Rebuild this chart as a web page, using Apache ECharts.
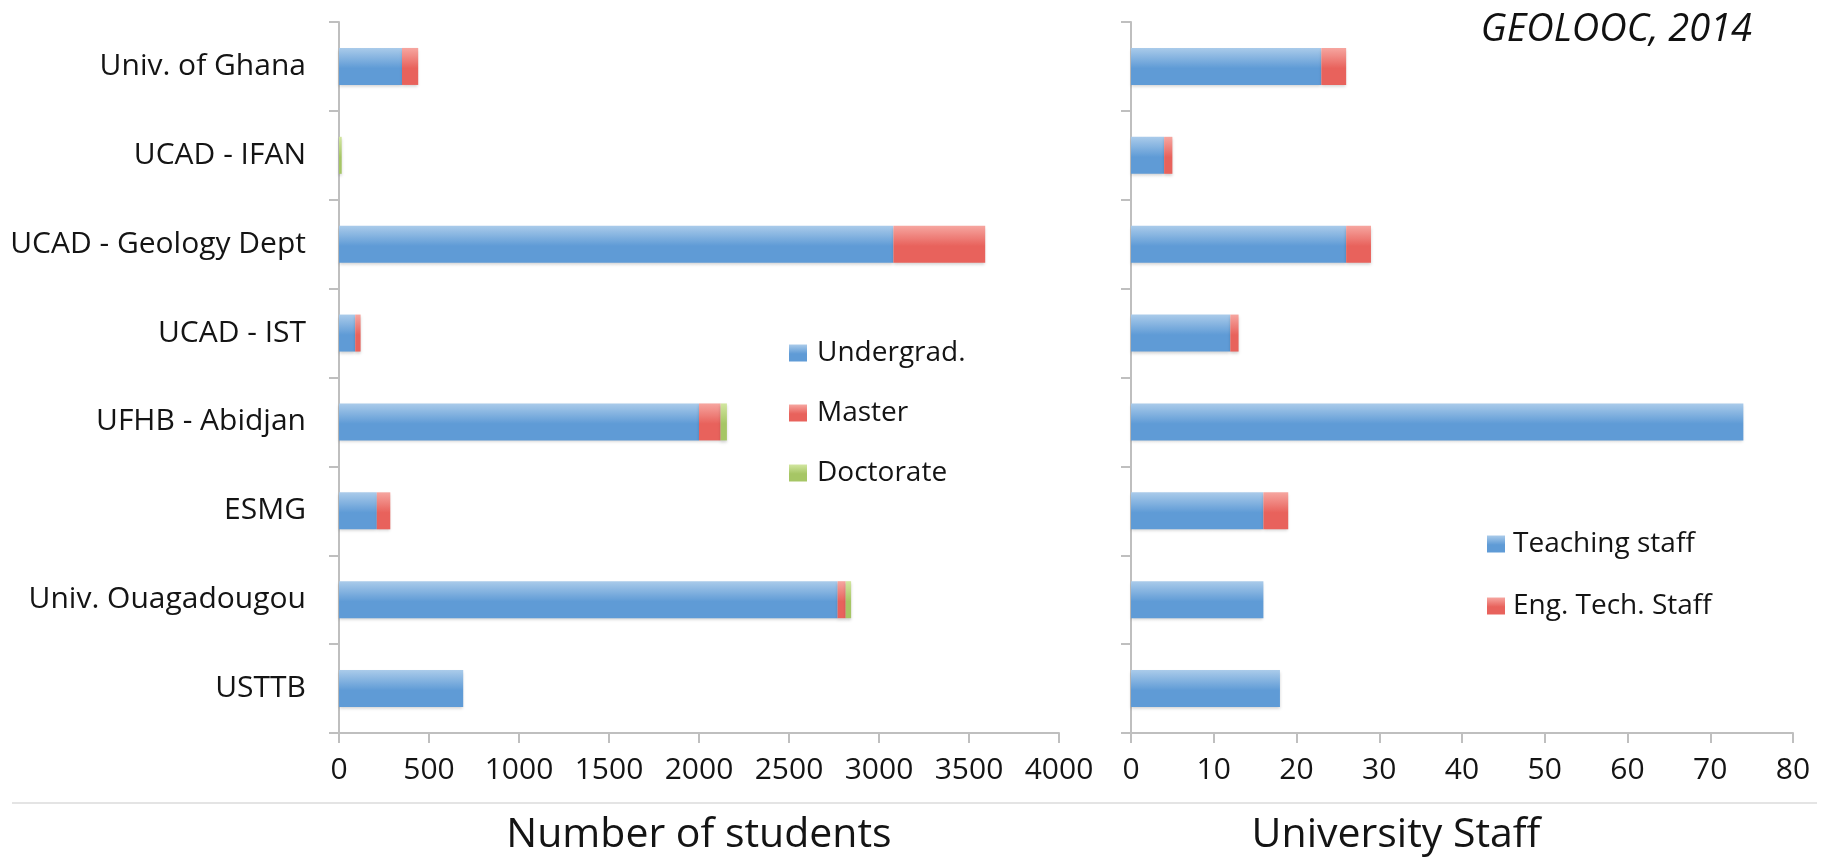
<!DOCTYPE html>
<html>
<head>
<meta charset="utf-8">
<script src="https://cdn.jsdelivr.net/npm/echarts@6/dist/echarts.min.js"></script>
<style>
html,body{margin:0;padding:0;background:#fff;}
#chart{width:1827px;height:860px;}
</style>
</head>
<body>
<div id="chart"></div>
<script>
const categories = ['Univ. of Ghana','UCAD - IFAN','UCAD - Geology Dept','UCAD - IST','UFHB - Abidjan','ESMG','Univ. Ouagadougou','USTTB'];
const undergrad = [350, 0, 3080, 90, 2000, 210, 2770, 690];
const master    = [90, 0, 510, 30, 120, 75, 45, 0];
const doctorate = [0, 15, 0, 0, 35, 0, 30, 0];
const teaching  = [23, 4, 26, 12, 74, 16, 16, 18];
const engTech   = [3, 1, 3, 1, 0, 3, 0, 0];
const studentTicks = {min: 0, max: 4000, interval: 500};
const staffTicks = {min: 0, max: 80, interval: 10};

const FONT = 'Open Sans';
const TXT = '#141414';
function grad(top, bottom){
  return new echarts.graphic.LinearGradient(0,0,0,1,[
    {offset:0,color:top},{offset:0.55,color:bottom},{offset:1,color:bottom}
  ]);
}
const BLUE = grad('#aacbea','#5f9bd6');
const RED = grad('#f6a6a0','#e8625c');
const GREEN = grad('#d2e6a0','#a6c665');
const BAR_W = 37;
const axisLineStyle = {color:'#bfbfbf', width:2};

const chart = echarts.init(document.getElementById('chart'));
const catAxis = (gi, showLabel) => ({
  type:'category', gridIndex:gi, data:categories, inverse:true,
  axisLine:{show:true, lineStyle:axisLineStyle},
  axisTick:{show:true, length:10, lineStyle:axisLineStyle, alignWithLabel:false},
  axisLabel:{show:showLabel, fontFamily:FONT, fontSize:30, fontWeight:500, color:TXT, margin:33},
  splitLine:{show:false}
});
const valAxis = (gi, t) => ({
  type:'value', gridIndex:gi, min:t.min, max:t.max, interval:t.interval,
  axisLine:{show:true, lineStyle:axisLineStyle},
  axisTick:{show:true, length:10, lineStyle:axisLineStyle},
  axisLabel:{fontFamily:FONT, fontSize:30, fontWeight:500, color:TXT, margin:22,
             formatter:(v)=>String(v)},
  splitLine:{show:false}
});
const bar = (name, data, color, xi, stack) => ({
  name, type:'bar', stack, xAxisIndex:xi, yAxisIndex:xi, data,
  barWidth:BAR_W, itemStyle:{color, shadowColor:'rgba(0,0,0,0.18)', shadowBlur:3, shadowOffsetY:2},
  emphasis:{disabled:true}, animation:false
});

chart.setOption({
  animation:false,
  backgroundColor:'#ffffff',
  textStyle:{fontFamily:FONT},
  title:[
    {text:'Number of students', left:694, top:810, textAlign:'center',
     textStyle:{fontFamily:FONT, fontSize:41, fontWeight:'normal', color:TXT}},
    {text:'University Staff', left:1391, top:810, textAlign:'center',
     textStyle:{fontFamily:FONT, fontSize:41, fontWeight:'normal', color:TXT}},
    {text:'GEOLOOC, 2014', right:70, top:6,
     textStyle:{fontFamily:FONT, fontSize:38, fontStyle:'italic', fontWeight:'normal', color:'#111'}}
  ],
  legend:[
    {data:['Undergrad.','Master','Doctorate'], orient:'vertical', left:784, top:333,
     itemWidth:18, itemHeight:17, itemGap:30, icon:'rect',
     textStyle:{fontFamily:FONT, fontSize:28, fontWeight:500, color:TXT, lineHeight:30, padding:[0,0,0,5]}},
    {data:['Teaching staff','Eng. Tech. Staff'], orient:'vertical', left:1482, top:524,
     itemWidth:18, itemHeight:17, itemGap:32, icon:'rect',
     textStyle:{fontFamily:FONT, fontSize:28, fontWeight:500, color:TXT, lineHeight:30, padding:[0,0,0,3]}}
  ],
  grid:[
    {left:339, width:720, top:22, height:711, containLabel:false},
    {left:1131, width:662, top:22, height:711, containLabel:false}
  ],
  xAxis:[valAxis(0, studentTicks), valAxis(1, staffTicks)],
  yAxis:[catAxis(0, true), catAxis(1, false)],
  series:[
    bar('Undergrad.', undergrad, BLUE, 0, 'students'),
    bar('Master', master, RED, 0, 'students'),
    bar('Doctorate', doctorate, GREEN, 0, 'students'),
    bar('Teaching staff', teaching, BLUE, 1, 'staff'),
    bar('Eng. Tech. Staff', engTech, RED, 1, 'staff')
  ],
  graphic:[
    {type:'line', shape:{x1:12, y1:803, x2:1817, y2:803}, style:{stroke:'#e4e4e4', lineWidth:2}, silent:true}
  ]
});
</script>
</body>
</html>
